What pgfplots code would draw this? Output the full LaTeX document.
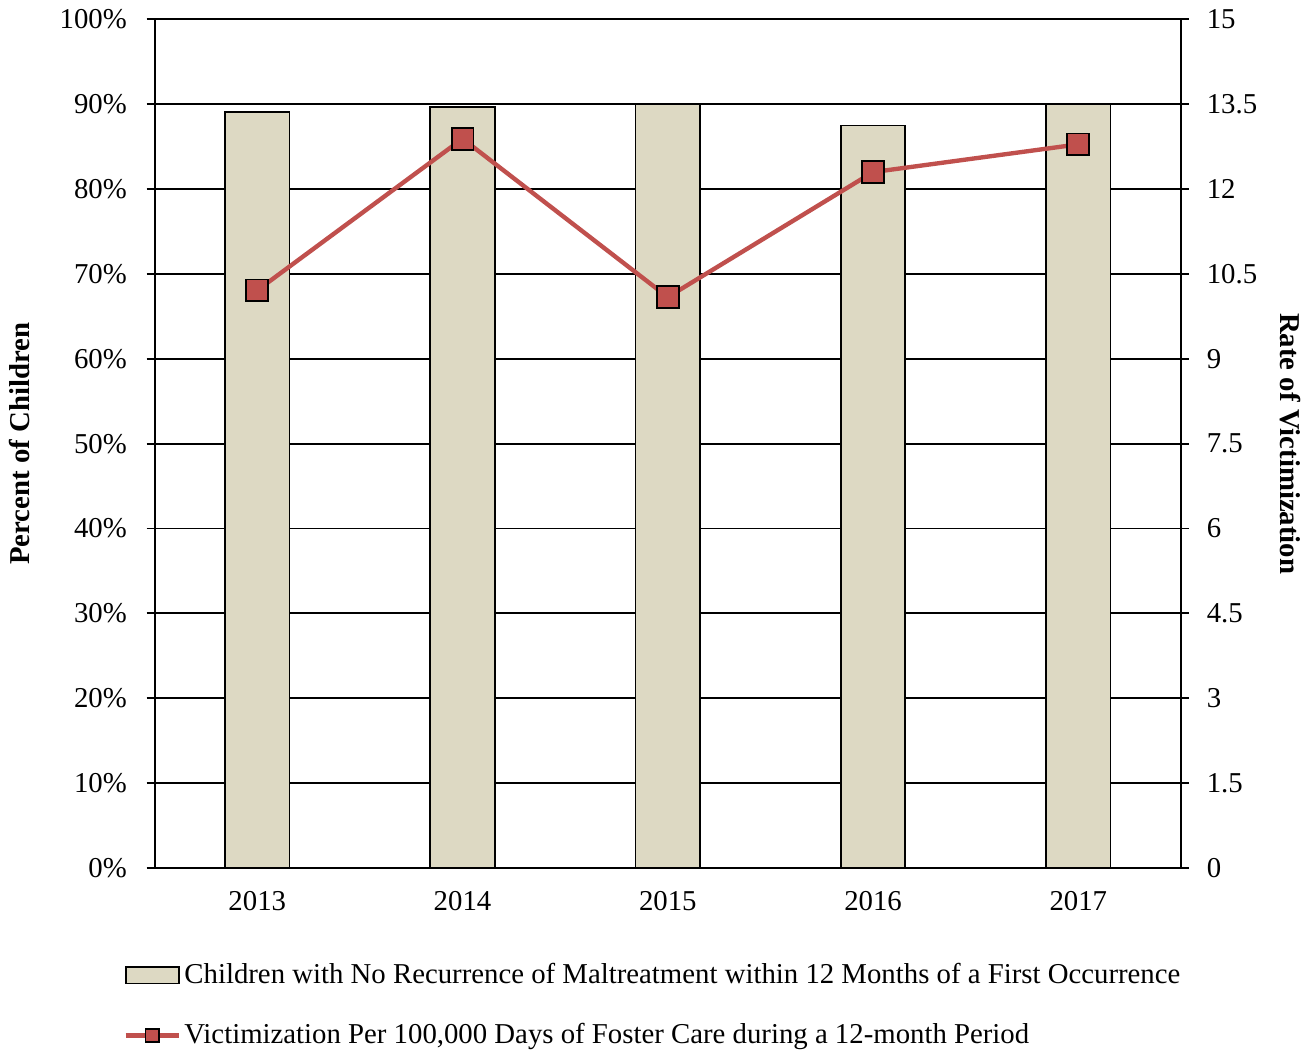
\documentclass[border=0pt]{standalone}
\usepackage{fontspec}
\setmainfont{Liberation Serif}
\usepackage{pgfplots}
\pgfplotsset{compat=1.18}
\definecolor{barfill}{HTML}{DDD9C3}
\definecolor{linered}{HTML}{C0504D}
\begin{document}
\fontsize{14.5}{17}\selectfont
\begin{tikzpicture}
\begin{axis}[
  scale only axis, width=517pt, height=427.5pt,
  xmin=-0.5, xmax=4.5, ymin=0, ymax=100,
  xtick={0,1,2,3,4}, xticklabels={2013,2014,2015,2016,2017},
  x tick style={draw=none},
  ytick={0,10,...,100},
  yticklabel={\pgfmathprintnumber{\tick}\%},
  ytick pos=left, tick align=outside, major tick length=4pt,
  ymajorgrids, grid style={black, line width=0.9pt},
  axis line style={black, line width=0.9pt},
  tick style={black, line width=0.9pt},
  /pgf/number format/assume math mode=true,
  tick label style={font=\fontsize{14.5}{17}\selectfont},
  xticklabel style={yshift=-3pt},
  yticklabel style={xshift=-5pt},
  ylabel={\textbf{Percent of Children}},
  ylabel style={font=\fontsize{14.5}{17}\selectfont, yshift=5pt},
]
\addplot[ybar, bar width=32.5pt, fill=barfill, draw=black, line width=0.9pt]
  coordinates {(0,89.1) (1,89.7) (2,90.05) (3,87.5) (4,90.05)};
\end{axis}
\begin{axis}[
  scale only axis, width=517pt, height=427.5pt,
  xmin=-0.5, xmax=4.5, ymin=0, ymax=15,
  axis x line=none, axis y line*=right,
  ytick={0,1.5,...,15},
  yticklabels={0,1.5,3,4.5,6,7.5,9,10.5,12,13.5,15},
  tick align=outside, major tick length=4pt,
  axis line style={black, line width=0.9pt},
  tick style={black, line width=0.9pt},
  /pgf/number format/assume math mode=true,
  tick label style={font=\fontsize{14.5}{17}\selectfont},
  yticklabel style={xshift=4pt},
  ylabel={\textbf{Rate of Victimization}},
  ylabel style={font=\fontsize{14.5}{17}\selectfont, rotate=180, yshift=1.5pt},
  legend style={at={(0.486,-0.109)}, anchor=north, draw=none, fill=none,
    font=\fontsize{14.5}{17}\selectfont, legend cell align=left,
    row sep=16pt, inner sep=0pt, nodes={inner xsep=1.5pt, inner ysep=1pt}},
  legend columns=1,
]
\addlegendimage{legend image code/.code={\draw[fill=barfill, draw=black, line width=0.9pt] (0pt,-4.2pt) rectangle (27pt,4.2pt);}}
\addlegendentry{Children with No Recurrence of Maltreatment within 12 Months of a First Occurrence}
\addplot[linered, line width=2.2pt, mark=square*,
  mark options={fill=linered, draw=black, line width=0.9pt, mark size=5.5pt},
  legend image code/.code={\draw[linered, line width=2.2pt] (0pt,0pt) -- (27pt,0pt);
    \draw[fill=linered, draw=black, line width=0.9pt] (10pt,-3.3pt) rectangle (16.6pt,3.3pt);}]
  coordinates {(0,10.21) (1,12.89) (2,10.09) (3,12.30) (4,12.79)};
\addlegendentry{Victimization Per 100,000 Days of Foster Care during a 12-month Period}
\end{axis}
\end{tikzpicture}
\end{document}
